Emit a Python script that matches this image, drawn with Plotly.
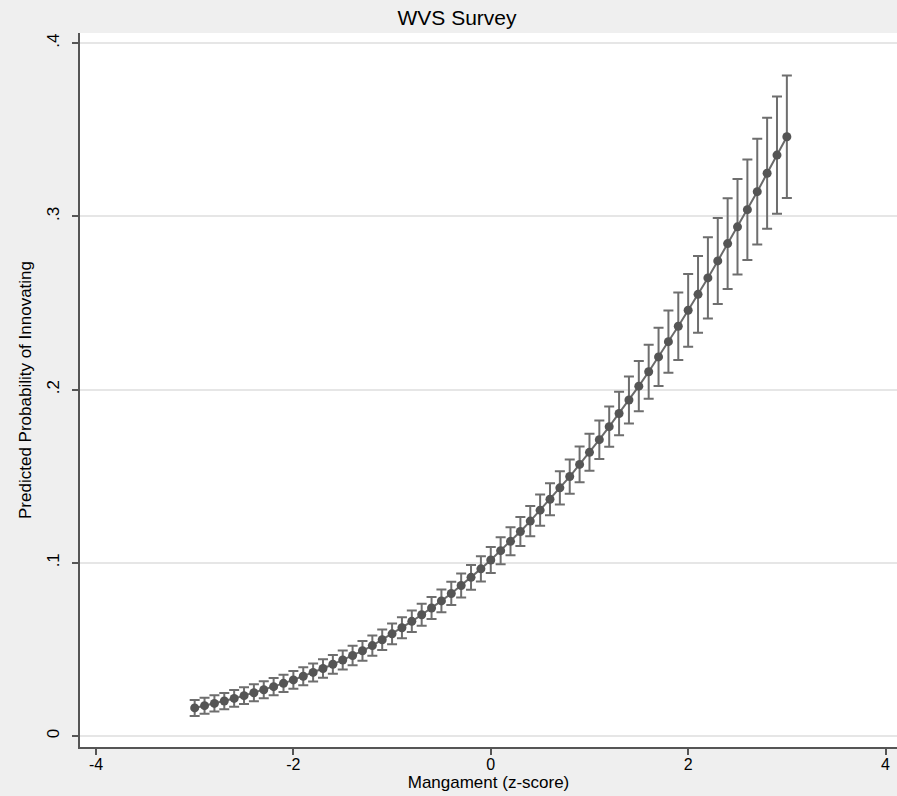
import plotly.graph_objects as go

# Management z-score values (x) and predicted probabilities
x_vals = [-3.0, -2.9, -2.8, -2.7, -2.6, -2.5, -2.4, -2.3, -2.2, -2.1,
          -2.0, -1.9, -1.8, -1.7, -1.6, -1.5, -1.4, -1.3, -1.2, -1.1,
          -1.0, -0.9, -0.8, -0.7, -0.6, -0.5, -0.4, -0.3, -0.2, -0.1,
          0.0, 0.1, 0.2, 0.3, 0.4, 0.5, 0.6, 0.7, 0.8, 0.9,
          1.0, 1.1, 1.2, 1.3, 1.4, 1.5, 1.6, 1.7, 1.8, 1.9,
          2.0, 2.1, 2.2, 2.3, 2.4, 2.5, 2.6, 2.7, 2.8, 2.9, 3.0]

prob = [0.0162, 0.0175, 0.0188, 0.0202, 0.0217, 0.0233, 0.0250, 0.0267, 0.0285, 0.0304,
        0.0324, 0.0345, 0.0367, 0.0390, 0.0414, 0.0439, 0.0465, 0.0492, 0.0522, 0.0556,
        0.0590, 0.0625, 0.0662, 0.0700, 0.0739, 0.0780, 0.0823, 0.0869, 0.0916, 0.0965,
        0.1016, 0.1070, 0.1124, 0.1181, 0.1241, 0.1304, 0.1367, 0.1433, 0.1498, 0.1568,
        0.1638, 0.1711, 0.1786, 0.1862, 0.1940, 0.2020, 0.2103, 0.2189, 0.2277, 0.2366,
        0.2458, 0.2550, 0.2645, 0.2743, 0.2843, 0.2940, 0.3039, 0.3143, 0.3249, 0.3354, 0.3460]

ci_half = [0.0046, 0.0046, 0.0047, 0.0047, 0.0048, 0.0048, 0.0049, 0.0049, 0.0050, 0.0050,
           0.0051, 0.0052, 0.0052, 0.0053, 0.0054, 0.0055, 0.0056, 0.0057, 0.0058, 0.0059,
           0.0060, 0.0061, 0.0062, 0.0063, 0.0064, 0.0066, 0.0067, 0.0069, 0.0071, 0.0073,
           0.0075, 0.0078, 0.0081, 0.0084, 0.0087, 0.0090, 0.0093, 0.0096, 0.0099, 0.0103,
           0.0107, 0.0111, 0.0116, 0.0125, 0.0135, 0.0145, 0.0156, 0.0168, 0.0180, 0.0195,
           0.0210, 0.0222, 0.0235, 0.0248, 0.0262, 0.0276, 0.0290, 0.0305, 0.0320, 0.0338, 0.0353]

x_ticks = [-4, -2, 0, 2, 4]
x_tick_labels = ["-4", "-2", "0", "2", "4"]
y_ticks = [0, 0.1, 0.2, 0.3, 0.4]
y_tick_labels = ["0", ".1", ".2", ".3", ".4"]

fig = go.Figure()
fig.add_trace(go.Scatter(
    x=x_vals, y=prob, mode="lines+markers",
    line=dict(color="#6a6a6a", width=2),
    marker=dict(color="#555555", size=9),
    error_y=dict(type="data", array=ci_half, visible=True,
                 color="#6e6e6e", thickness=2, width=5),
    showlegend=False,
))

fig.update_layout(
    width=897, height=796,
    paper_bgcolor="#efefef", plot_bgcolor="white",
    margin=dict(l=80, r=0, t=33, b=49),
    title=dict(text="WVS Survey", x=457/897, xanchor="center", xref="container",
               y=1 - 18/796, yanchor="middle", yref="container",
               font=dict(family="Liberation Sans, Arial, sans-serif", size=21, color="black")),
    font=dict(family="Liberation Sans, Arial, sans-serif", color="black"),
)

fig.update_xaxes(
    range=[-4.162, 4.116], tickvals=x_ticks, ticktext=x_tick_labels,
    showgrid=False, zeroline=False,
    showline=True, linecolor="#555555", linewidth=2,
    ticks="outside", ticklen=6, tickcolor="#555555", tickwidth=1.5,
    ticklabelstandoff=-4,
    tickfont=dict(size=16, family="Liberation Sans, Arial, sans-serif"),
    title=dict(text="Mangament (z-score)",
               font=dict(size=17, family="Liberation Sans Narrow, Arial Narrow, Liberation Sans, sans-serif"),
               standoff=0),
)
fig.update_yaxes(
    range=[-0.00635, 0.4059], tickvals=y_ticks, ticktext=y_tick_labels,
    showgrid=True, gridcolor="#e6e6e6", gridwidth=1.5, zeroline=False,
    showline=True, linecolor="#555555", linewidth=2,
    ticks="outside", ticklen=6, tickcolor="#555555", tickwidth=1.5,
    tickangle=-90, ticklabelstandoff=6,
    tickfont=dict(size=17, family="Liberation Sans, Arial, sans-serif"),
    title=dict(text="Predicted Probability of Innovating",
               font=dict(size=17, family="Liberation Sans Narrow, Arial Narrow, Liberation Sans, sans-serif"),
               standoff=8),
)

fig.write_html(
    "out.html",
    config={"displayModeBar": False},
    post_script="document.body.style.margin='0';document.body.style.overflow='hidden';",
)
